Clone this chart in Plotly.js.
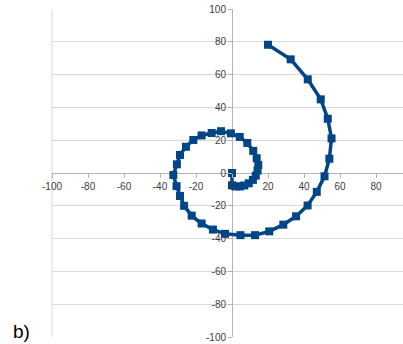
<!DOCTYPE html>
<html>
<head>
<meta charset="utf-8">
<script src="https://cdn.plot.ly/plotly-3.0.1.min.js"></script>
<style>
html,body{margin:0;padding:0;overflow:hidden;background:#fff;width:403px;height:344px;}
#chart{width:422px;height:344px;}
</style>
</head>
<body>
<div id="chart"></div>
<script>
const xValues = [0, 0, 2.1, 4.4, 6.8, 9.3, 11.6, 13.2, 14.2, 14.6, 13.7, 11.8, 8.5, 4.3,
  -0.6, -6.1, -11.3, -16.9, -21.5, -25.6, -28.9, -30.6, -32.6, -30.8, -28.9, -26.6,
  -22.4, -16.9, -10.6, -3.9, 4.7, 12.8, 20.7, 28.5, 35.6, 42.0, 47.1, 51.4, 54.1,
  55.3, 53.2, 49.3, 42.1, 32.6, 20.0];
const yValues = [0, -7.5, -8.2, -8.2, -7.6, -6.3, -4.2, -1.6, 1.5, 4.9, 9.0, 13.5, 18.3, 22.0,
  24.2, 25.5, 24.4, 22.9, 20.1, 16.0, 11.0, 5.3, -1.2, -8.0, -14.0, -20.0,
  -26.0, -30.8, -34.5, -37.1, -37.9, -37.9, -35.6, -31.5, -26.4, -19.8, -11.5, -2.0, 8.7,
  21.1, 33.1, 44.9, 57.1, 69.3, 78.2];
const tickValues = [-100, -80, -60, -40, -20, 0, 20, 40, 60, 80, 100];
const panelLabel = "b)";

const axisCommon = {
  range: [-100, 100],
  tickvals: tickValues,
  ticktext: tickValues.map(String),
  showgrid: true,
  gridcolor: '#d9d9d9',
  gridwidth: 1,
  zeroline: true,
  zerolinecolor: '#b3b3b3',
  zerolinewidth: 1,
  showline: false,
  ticks: 'outside',
  ticklen: 4,
  tickcolor: '#b3b3b3',
  tickfont: {family: 'Liberation Sans, Arial, sans-serif', size: 10, color: '#3c3c3c'},
  anchor: 'free',
  position: 0.5,
  fixedrange: true
};

const trace = {
  x: xValues,
  y: yValues,
  type: 'scatter',
  mode: 'lines+markers',
  line: {color: '#004586', width: 3.5},
  marker: {symbol: 'square', size: 8, color: '#004586'},
  hoverinfo: 'skip'
};

const layout = {
  width: 422,
  height: 344,
  margin: {l: 52, r: 10, t: 9, b: 7},
  paper_bgcolor: '#ffffff',
  plot_bgcolor: '#ffffff',
  showlegend: false,
  xaxis: Object.assign({}, axisCommon, {side: 'bottom', showgrid: false}),
  yaxis: Object.assign({}, axisCommon, {side: 'left'}),
  shapes: [{
    type: 'line', xref: 'paper', yref: 'paper',
    x0: 0, x1: 0, y0: 0, y1: 1,
    line: {color: '#d9d9d9', width: 1},
    layer: 'below'
  }],
  annotations: [{
    text: panelLabel,
    xref: 'paper', yref: 'paper',
    x: -0.085, y: -0.02,
    xanchor: 'center', yanchor: 'bottom',
    showarrow: false,
    font: {family: 'Liberation Sans, Arial, sans-serif', size: 19, color: '#000000'}
  }]
};

Plotly.newPlot('chart', [trace], layout, {staticPlot: true, displayModeBar: false});
</script>
</body>
</html>
